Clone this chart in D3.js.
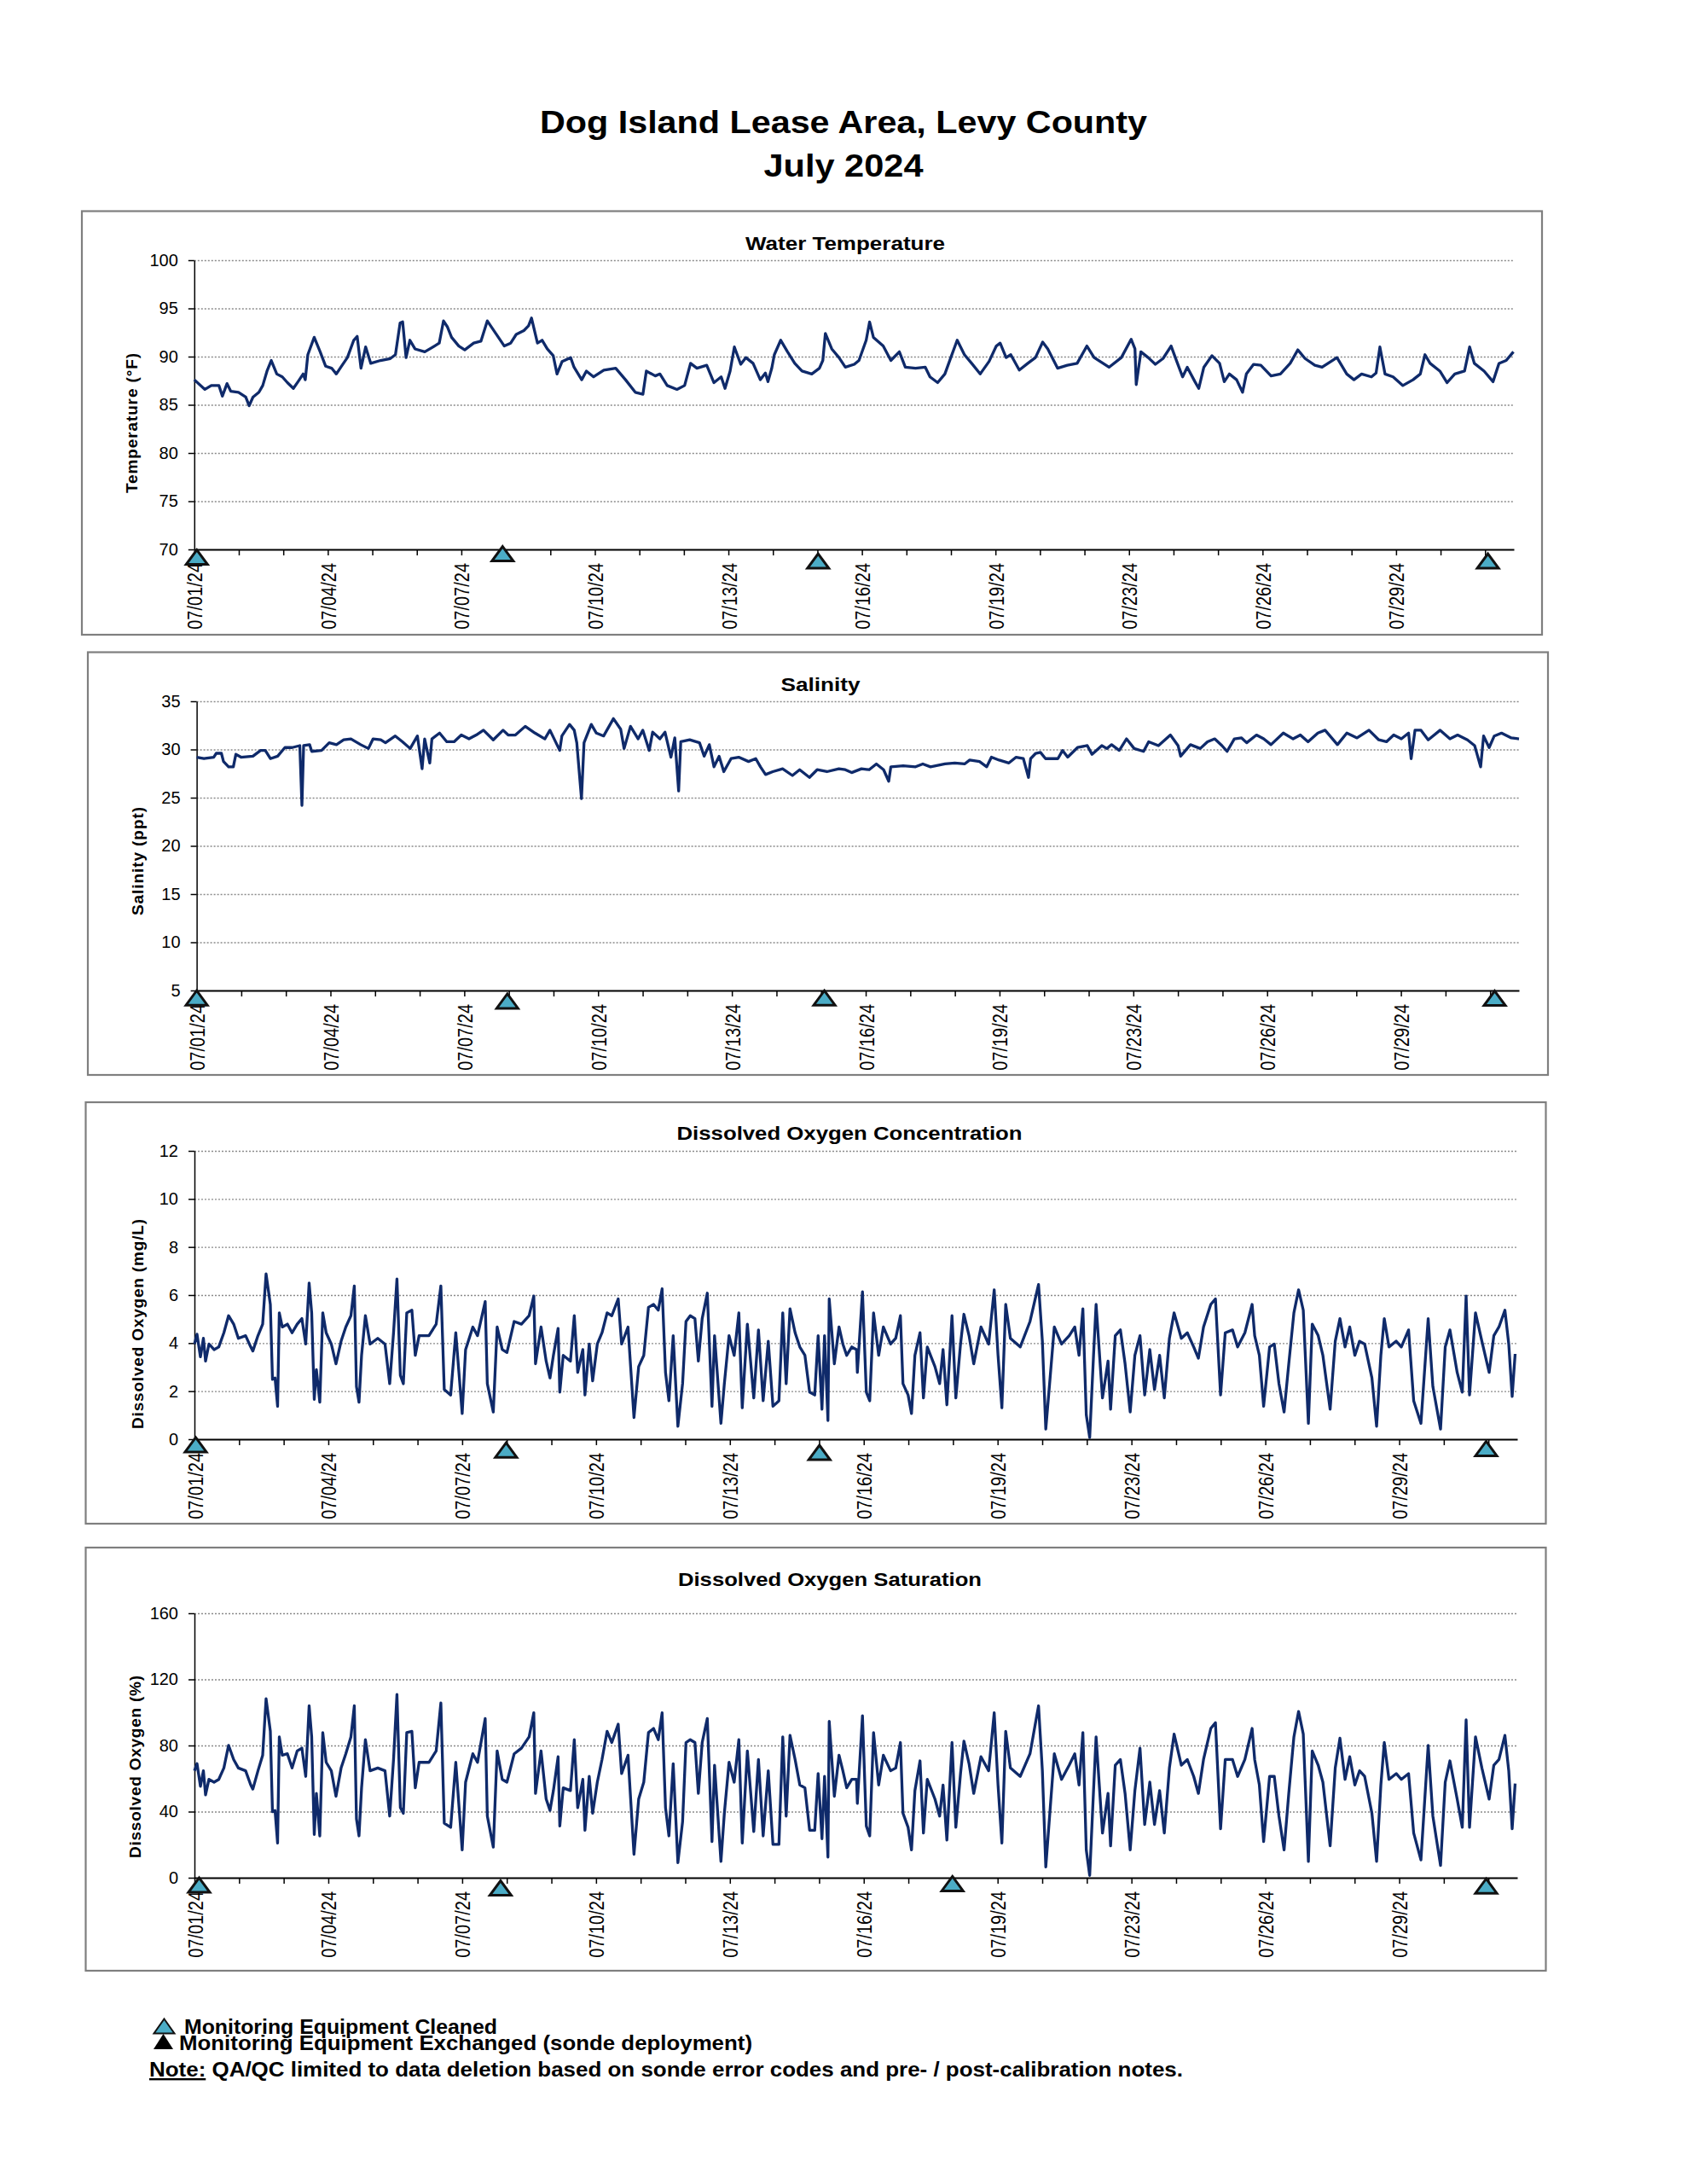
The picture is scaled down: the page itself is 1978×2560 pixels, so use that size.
<!DOCTYPE html>
<html>
<head>
<meta charset="utf-8">
<script src="https://cdn.jsdelivr.net/npm/d3@7"></script>
<style>
  body { margin: 0; background: #fff; }
  text { font-family: "Liberation Sans", Arial, sans-serif; }
</style>
</head>
<body>
<div id="page"></div>
<script>
const width = 1978;
const height = 2560;

// ---- data (days after 07/01/24 00:00, value) ----
const pageTitle = ["Dog Island Lease Area, Levy County", "July 2024"];
const chartTitles = ["Water Temperature", "Salinity", "Dissolved Oxygen Concentration", "Dissolved Oxygen Saturation"];
const yAxisTitles = ["Temperature (°F)", "Salinity (ppt)", "Dissolved Oxygen (mg/L)", "Dissolved Oxygen (%)"];

const xTickLabels = ["07/01/24", "07/04/24", "07/07/24", "07/10/24", "07/13/24", "07/16/24", "07/19/24", "07/23/24", "07/26/24", "07/29/24"];
const xLabelStep = 3.14;   // days between labelled ticks
const xDomainEnd = 31.03;

const tempTicks = [70, 75, 80, 85, 90, 95, 100];
const salTicks = [5, 10, 15, 20, 25, 30, 35];
const doConcTicks = [0, 2, 4, 6, 8, 10, 12];
const doSatTicks = [0, 40, 80, 120, 160];

const tempSeries = [
  [0.00,87.6],[0.25,86.6],[0.40,87.0],[0.58,87.0],[0.66,85.9],[0.77,87.2],[0.86,86.4],[1.04,86.3],[1.21,85.8],[1.29,84.9],
  [1.38,85.8],[1.52,86.3],[1.61,87.0],[1.71,88.5],[1.81,89.6],[1.94,88.2],[2.07,87.9],[2.19,87.3],[2.33,86.7],[2.44,87.4],
  [2.56,88.2],[2.61,87.6],[2.67,90.2],[2.82,92.0],[2.96,90.5],[3.09,89.0],[3.23,88.8],[3.34,88.2],[3.46,89.0],[3.60,89.9],
  [3.75,91.7],[3.83,92.1],[3.92,88.8],[4.03,91.0],[4.15,89.3],[4.38,89.6],[4.61,89.8],[4.73,90.2],[4.84,93.5],[4.90,93.6],
  [4.98,89.9],[5.07,91.7],[5.19,90.8],[5.42,90.5],[5.65,91.1],[5.76,91.4],[5.86,93.7],[5.95,93.1],[6.05,92.0],[6.22,91.1],
  [6.36,90.7],[6.57,91.4],[6.74,91.6],[6.89,93.7],[7.09,92.4],[7.29,91.1],[7.44,91.4],[7.57,92.3],[7.75,92.7],[7.86,93.2],
  [7.93,94.0],[8.07,91.4],[8.18,91.7],[8.30,90.8],[8.44,90.1],[8.53,88.2],[8.65,89.5],[8.85,89.9],[8.93,88.9],[9.11,87.6],
  [9.22,88.5],[9.39,87.9],[9.63,88.6],[9.91,88.8],[10.14,87.6],[10.37,86.3],[10.55,86.1],[10.63,88.5],[10.84,88.0],[10.95,88.2],
  [11.12,87.0],[11.35,86.6],[11.53,87.0],[11.67,89.3],[11.82,88.8],[12.05,89.1],[12.22,87.3],[12.39,87.9],[12.48,86.7],[12.60,88.5],
  [12.70,91.0],[12.85,89.2],[12.97,89.9],[13.14,89.3],[13.31,87.6],[13.43,88.3],[13.49,87.4],[13.58,88.8],[13.64,90.2],[13.79,91.7],
  [13.95,90.5],[14.12,89.3],[14.29,88.5],[14.52,88.2],[14.70,88.8],[14.78,89.6],[14.84,92.4],[14.99,90.8],[15.16,89.9],[15.31,88.9],
  [15.52,89.2],[15.63,89.6],[15.80,91.7],[15.88,93.6],[15.97,92.0],[16.20,91.1],[16.38,89.6],[16.58,90.5],[16.72,88.9],[16.96,88.8],
  [17.19,88.9],[17.30,87.9],[17.48,87.3],[17.65,88.2],[17.79,89.9],[17.94,91.7],[18.11,90.2],[18.28,89.3],[18.48,88.2],[18.69,89.5],
  [18.86,91.1],[18.95,91.4],[19.09,89.9],[19.20,90.2],[19.40,88.6],[19.60,89.3],[19.78,89.9],[19.95,91.5],[20.07,90.8],[20.30,88.8],
  [20.53,89.1],[20.76,89.3],[20.99,91.1],[21.16,89.9],[21.51,88.9],[21.80,89.9],[22.03,91.8],[22.12,90.8],[22.15,87.1],[22.26,90.5],
  [22.43,89.9],[22.60,89.2],[22.78,89.8],[22.97,91.1],[23.12,89.3],[23.24,87.9],[23.35,88.9],[23.53,87.4],[23.62,86.7],[23.74,88.9],
  [23.93,90.1],[24.11,89.3],[24.22,87.4],[24.34,88.2],[24.51,87.6],[24.65,86.3],[24.74,88.2],[24.91,89.2],[25.08,89.1],[25.32,88.0],
  [25.54,88.2],[25.77,89.3],[25.95,90.7],[26.12,89.8],[26.35,89.1],[26.52,88.9],[26.87,89.9],[27.10,88.2],[27.27,87.6],[27.45,88.2],
  [27.68,87.9],[27.79,88.3],[27.88,91.0],[28.00,88.2],[28.19,87.9],[28.42,87.0],[28.66,87.6],[28.83,88.2],[28.94,90.2],[29.06,89.3],
  [29.29,88.5],[29.46,87.3],[29.64,88.2],[29.87,88.5],[29.99,91.0],[30.10,89.3],[30.33,88.5],[30.54,87.4],[30.68,89.3],[30.85,89.6],
  [31.02,90.5]
];

const salSeries = [
  [0.00,29.2],[0.17,29.05],[0.40,29.2],[0.46,29.6],[0.58,29.6],[0.63,28.75],[0.75,28.2],[0.86,28.2],[0.92,29.5],[1.04,29.2],
  [1.32,29.3],[1.50,29.9],[1.61,29.9],[1.73,29.05],[1.90,29.3],[2.07,30.2],[2.24,30.2],[2.42,30.4],[2.47,24.2],[2.51,30.4],
  [2.65,30.5],[2.70,29.8],[2.93,29.9],[3.11,30.7],[3.28,30.5],[3.45,31.0],[3.62,31.1],[3.85,30.5],[4.03,30.1],[4.14,31.1],
  [4.32,31.0],[4.43,30.7],[4.66,31.4],[4.83,30.8],[5.01,30.1],[5.18,31.4],[5.29,28.0],[5.35,31.1],[5.47,28.6],[5.52,31.1],
  [5.70,31.7],[5.87,30.8],[6.04,30.8],[6.21,31.5],[6.39,31.1],[6.56,31.5],[6.73,32.0],[6.96,31.0],[7.19,32.0],[7.31,31.5],
  [7.48,31.5],[7.71,32.4],[7.94,31.7],[8.17,31.1],[8.29,32.0],[8.52,29.9],[8.57,31.4],[8.75,32.6],[8.86,32.0],[8.92,30.7],
  [9.03,24.9],[9.09,30.7],[9.26,32.6],[9.38,31.7],[9.55,31.4],[9.78,33.2],[9.95,32.1],[10.03,30.1],[10.18,32.4],[10.36,31.1],
  [10.47,32.0],[10.62,29.9],[10.70,31.8],[10.87,31.1],[10.99,31.8],[11.13,29.2],[11.22,31.2],[11.31,25.7],[11.36,30.8],[11.57,31.0],
  [11.80,30.7],[11.91,29.3],[12.03,30.5],[12.14,28.2],[12.26,29.3],[12.37,27.7],[12.54,29.05],[12.72,29.2],[12.95,28.75],[13.12,29.05],
  [13.23,28.2],[13.35,27.4],[13.52,27.7],[13.75,28.0],[13.98,27.3],[14.15,27.9],[14.38,27.1],[14.56,27.9],[14.79,27.7],[15.07,28.0],
  [15.22,27.9],[15.37,27.6],[15.60,28.0],[15.78,27.9],[15.95,28.5],[16.12,27.9],[16.24,26.7],[16.29,28.2],[16.58,28.3],[16.87,28.2],
  [17.04,28.5],[17.22,28.2],[17.56,28.5],[17.79,28.6],[18.02,28.5],[18.14,28.9],[18.37,28.75],[18.54,28.2],[18.65,29.2],[18.83,28.9],
  [19.06,28.6],[19.23,29.2],[19.40,29.05],[19.52,27.1],[19.57,29.05],[19.69,29.6],[19.80,29.7],[19.92,29.05],[20.21,29.05],[20.32,29.9],
  [20.44,29.2],[20.67,30.2],[20.90,30.4],[21.01,29.5],[21.24,30.4],[21.36,30.1],[21.47,30.5],[21.65,29.9],[21.82,31.1],[22.00,30.1],
  [22.22,29.8],[22.34,30.8],[22.57,30.4],[22.85,31.5],[23.03,30.4],[23.09,29.3],[23.32,30.5],[23.55,30.1],[23.72,30.8],[23.89,31.1],
  [24.06,30.4],[24.18,29.8],[24.35,31.1],[24.52,31.2],[24.64,30.7],[24.87,31.5],[25.04,31.1],[25.21,30.5],[25.50,31.7],[25.73,31.1],
  [25.90,31.5],[26.08,30.8],[26.31,31.7],[26.48,32.0],[26.77,30.5],[26.99,31.7],[27.23,31.2],[27.51,32.0],[27.74,31.0],[27.92,30.8],
  [28.09,31.5],[28.27,31.1],[28.44,31.7],[28.50,29.05],[28.59,32.0],[28.73,32.0],[28.90,31.0],[29.18,32.0],[29.41,31.1],[29.59,31.5],
  [29.82,31.0],[29.99,30.4],[30.13,28.2],[30.20,31.4],[30.33,30.2],[30.45,31.4],[30.62,31.7],[30.85,31.2],[31.03,31.1]
];

// dissolved oxygen: both series logged at the same times
const doDays = [
  0.00,0.06,0.14,0.21,0.26,0.34,0.46,0.57,0.69,0.80, 0.92,1.03,1.20,1.32,1.37,1.49,1.60,1.68,1.78,1.83,
  1.89,1.95,1.99,2.06,2.18,2.29,2.41,2.52,2.61,2.69, 2.75,2.81,2.86,2.94,3.01,3.09,3.21,3.32,3.44,3.55,
  3.67,3.75,3.80,3.86,3.92,4.01,4.12,4.30,4.47,4.58, 4.67,4.75,4.83,4.90,4.98,5.10,5.18,5.27,5.50,5.67,
  5.78,5.86,6.01,6.13,6.28,6.36,6.53,6.64,6.82,6.87, 7.01,7.10,7.22,7.33,7.50,7.67,7.85,7.96,8.00,8.13,
  8.25,8.34,8.42,8.53,8.57,8.65,8.82,8.91,8.99,9.11, 9.16,9.26,9.34,9.45,9.56,9.68,9.79,9.94,10.02,10.17,
  10.31,10.42,10.54,10.65,10.77,10.88,10.97,11.05,11.13,11.23, 11.34,11.45,11.53,11.63,11.74,11.82,11.91,12.03,12.14,12.20,
  12.35,12.43,12.54,12.66,12.77,12.85,12.97,13.12,13.23,13.34, 13.46,13.57,13.71,13.80,13.88,13.97,14.09,14.20,14.32,14.43,
  14.55,14.63,14.72,14.78,14.86,14.89,15.01,15.12,15.21,
  15.30,15.42,15.53,15.55,15.67,15.76,15.84,15.93,16.05,16.16, 16.33,16.45,16.56,16.62,16.74,16.82,16.90,17.02,17.10,17.19,
  17.37,17.48,17.56,17.65,17.77,17.86,17.97,18.05,18.17,18.28, 18.45,18.63,18.76,18.85,18.94,19.03,19.14,19.37,19.60,19.80,
  19.89,19.97,20.06,20.17,20.34,20.52,20.65,20.75,20.84,20.92, 21.00,21.09,21.15,21.30,21.43,21.49,21.60,21.72,21.83,21.95,
  22.06,22.18,22.29,22.41,22.52,22.64,22.75,22.87,22.98,23.15, 23.29,23.44,23.55,23.67,23.84,23.95,24.07,24.18,24.35,24.47,
  24.64,24.81,24.87,24.98,25.08,25.22,25.33,25.44,25.56,25.67, 25.79,25.90,26.01,26.13,26.22,26.36,26.47,26.64,26.76,26.87,
  26.99,27.10,27.22,27.33,27.45,27.62,27.73,27.83,27.91,28.02, 28.19,28.31,28.48,28.60,28.77,28.94,29.05,29.23,29.34,29.45,
  29.62,29.74,29.83,29.91,30.05,30.20,30.37,30.48,30.60,30.74, 30.83,30.91,30.98
];

const doConcValues = [
  3.96,4.37,3.43,4.2,3.25,3.96,3.73,3.84,4.43,5.14, 4.79,4.2,4.31,3.84,3.67,4.31,4.79,6.88,5.61,2.49,
  2.55,1.37,5.26,4.67,4.79,4.43,4.79,5.02,3.96,6.5, 5.26,1.66,2.9,1.54,5.26,4.43,3.96,3.14,4.08,4.67,
  5.14,6.38,2.19,1.54,3.49,5.14,3.96,4.2,3.96,2.31, 4.43,6.67,2.66,2.31,5.26,5.37,3.49,4.31,4.31,4.79,
  6.38,2.07,1.84,4.43,1.07,3.73,4.67,4.31,5.73,2.31, 1.13,4.67,3.73,3.61,4.9,4.79,5.14,5.96,3.14,4.67,
  3.25,2.55,3.49,4.61,1.96,3.49,3.25,5.14,2.78,3.73, 1.84,3.96,2.43,3.96,4.43,5.26,5.14,5.84,3.96,4.67,
  0.9,3.02,3.49,5.49,5.61,5.37,6.26,2.78,1.6,4.31, 0.54,2.31,4.9,5.14,5.02,3.25,5.02,6.08,1.37,4.31,
  0.66,2.31,4.31,3.49,5.26,1.31,4.79,1.72,4.55,1.6, 4.08,1.37,1.6,5.26,2.31,5.43,4.43,3.84,3.49,1.96,
  1.84,4.31,1.25,4.31,0.78,5.84,3.14,4.67,3.96,
  3.49,3.84,3.73,2.78,6.14,1.96,1.6,5.26,3.49,4.67, 3.96,4.2,5.14,2.31,1.84,1.07,3.49,4.43,1.72,3.84,
  3.02,2.31,3.73,1.43,5.14,1.72,3.96,5.2,4.31,3.14, 4.67,3.96,6.22,3.49,1.31,5.61,4.2,3.84,4.9,6.44,
  4.08,0.42,2.31,4.67,3.96,4.31,4.67,3.49,5.43,1.01, 0.07,3.49,5.61,1.72,3.25,1.25,4.31,4.55,3.14,1.13,
  3.49,4.31,1.84,3.73,2.07,3.49,1.72,4.2,5.26,4.2, 4.43,3.84,3.37,4.67,5.61,5.84,1.84,4.43,4.55,3.84,
  4.43,5.61,4.31,3.49,1.37,3.84,3.96,2.31,1.13,3.14, 5.26,6.22,5.37,0.66,4.79,4.31,3.49,1.25,4.08,5.02,
  3.84,4.67,3.49,4.08,3.96,2.55,0.54,3.49,5.02,3.84, 4.08,3.84,4.55,1.6,0.66,5.02,2.19,0.42,3.84,4.55,
  2.78,1.96,5.96,1.84,5.26,4.08,2.78,4.31,4.67,5.37, 3.96,1.78,3.55
];

const doSatValues = [
  64.7,69.0,55.3,64.7,50.1,59.5,57.8,59.5,66.4,80.1, 71.5,66.4,64.7,56.1,53.6,64.7,74.1,108.3,88.6,39.9,
  40.7,21.0,85.2,74.1,75.0,66.4,76.7,78.4,61.3,104.0, 85.2,26.2,51.0,25.3,87.8,69.8,64.7,49.3,66.4,75.0,
  85.2,104.0,35.6,25.3,54.4,83.5,64.7,66.4,64.7,37.3, 71.5,110.9,42.4,39.0,87.8,88.6,54.4,69.8,69.8,76.7,
  105.7,33.0,30.5,69.8,16.8,57.8,75.0,69.8,96.3,37.3, 18.5,76.7,59.5,57.8,75.0,78.4,85.2,99.8,51.0,76.7,
  47.6,40.7,52.7,73.2,31.3,54.4,52.7,83.5,42.4,59.5, 28.7,61.3,39.0,57.8,71.5,88.6,81.8,92.9,63.0,74.1,
  14.2,47.6,57.8,87.8,90.3,83.5,99.8,42.4,25.3,69.0, 9.1,33.9,81.8,83.5,81.8,51.0,81.8,96.3,21.9,68.1,
  9.9,39.0,69.8,57.8,83.5,21.0,76.7,27.9,71.5,25.3, 64.7,20.2,20.2,85.2,37.3,86.1,71.5,56.1,54.4,28.7,
  28.7,63.0,23.6,61.3,12.5,94.6,49.3,74.1,64.7,
  54.4,59.5,59.5,45.0,98.0,31.3,25.3,87.8,56.1,74.1, 64.7,66.4,81.8,39.0,30.5,16.8,52.7,70.7,27.0,59.5,
  47.6,37.3,56.1,22.8,81.8,30.5,63.0,82.6,69.0,51.0, 73.2,64.7,99.8,56.1,21.0,88.6,66.4,61.3,75.0,104.0,
  64.7,6.5,37.3,75.0,59.5,68.1,75.0,56.1,87.8,16.8, 1.4,52.7,85.2,27.0,51.0,19.3,68.1,71.5,51.0,16.8,
  52.7,78.4,32.2,57.8,32.2,52.7,27.0,66.4,86.9,68.1, 71.5,61.3,51.0,71.5,90.3,93.8,29.6,71.5,71.5,61.3,
  71.5,90.3,71.5,56.1,21.9,61.3,61.3,37.3,16.8,51.0, 85.2,100.6,86.9,9.9,76.7,68.1,57.8,19.3,66.4,84.4,
  59.5,73.2,56.1,64.7,61.3,39.0,9.9,56.1,81.8,59.5, 63.0,59.5,63.0,27.0,10.8,80.1,37.3,7.4,57.8,70.7,
  47.6,30.5,95.5,30.5,85.2,66.4,47.6,68.1,71.5,86.1, 64.7,29.6,57.0
];

// equipment cleaned events: [day, plotted value]
const tempMarkers = [[0.06,69.2],[7.25,69.55],[14.67,68.8],[30.42,68.8]];
const salMarkers = [[0.0,4.23],[7.29,3.9],[14.73,4.23],[30.46,4.2]];
const doConcMarkers = [[0.03,-0.23],[7.31,-0.45],[14.66,-0.55],[30.30,-0.39]];
const doSatMarkers = [[0.11,-4.4],[7.18,-6.2],[17.78,-3.6],[30.30,-5.0]];

const legendItems = ["Monitoring Equipment Cleaned", "Monitoring Equipment Exchanged (sonde deployment)"];
const noteText = ["Note:", " QA/QC limited to data deletion based on sonde error codes and pre- / post-calibration notes."];

// ---- layout ----
const lineColor = "#0f2a6a";
const cleanedColor = "#4bacc6";
const font = '"Liberation Sans", Arial, sans-serif';

const charts = [
  { data: tempSeries, ticks: tempTicks, markers: tempMarkers,
    box: [96, 247.5, 1808, 744], plot: [227.8, 1775, 305, 644],
    title: [991, 292.5, 234], yTitle: [161, 496, 164] },
  { data: salSeries, ticks: salTicks, markers: salMarkers,
    box: [103, 764.5, 1815, 1260], plot: [230.6, 1781, 822, 1161],
    title: [962, 810, 93], yTitle: [168, 1009.5, 127] },
  { data: d3.zip(doDays, doConcValues), ticks: doConcTicks, markers: doConcMarkers,
    box: [100.5, 1292, 1812.5, 1786], plot: [228, 1779, 1349, 1687],
    title: [996, 1336, 405], yTitle: [168, 1552, 246] },
  { data: d3.zip(doDays, doSatValues), ticks: doSatTicks, markers: doSatMarkers,
    box: [100.5, 1814, 1812.5, 2310], plot: [228, 1779, 1891, 2201],
    title: [973, 1859, 356], yTitle: [165, 2071, 214] }
];

const svg = d3.select("#page")
    .append("svg")
    .attr("width", width)
    .attr("height", height)
    .attr("viewBox", [0, 0, width, height]);

svg.append("rect").attr("width", width).attr("height", height).attr("fill", "#fff");

// page title
svg.append("text")
    .attr("x", 989).attr("y", 156)
    .attr("text-anchor", "middle")
    .attr("font-size", 37).attr("font-weight", "bold")
    .attr("textLength", 712).attr("lengthAdjust", "spacingAndGlyphs")
    .text(pageTitle[0]);
svg.append("text")
    .attr("x", 989).attr("y", 207)
    .attr("text-anchor", "middle")
    .attr("font-size", 37).attr("font-weight", "bold")
    .attr("textLength", 187).attr("lengthAdjust", "spacingAndGlyphs")
    .text(pageTitle[1]);

const trianglePath = (w, h) => `M0,${-h / 2}L${w / 2},${h / 2}L${-w / 2},${h / 2}Z`;
const xMinorTicks = d3.range(0, 30).map(j => j * xLabelStep / 3);

charts.forEach((c, i) => {
    const [pl, pr, pt, pb] = c.plot;
    const x = d3.scaleLinear().domain([0, xDomainEnd]).range([pl, pr]);
    const y = d3.scaleLinear().domain(d3.extent(c.ticks)).range([pb, pt]);
    const [bx0, by0, bx1, by1] = c.box;

    svg.append("rect")
        .attr("x", bx0).attr("y", by0)
        .attr("width", bx1 - bx0).attr("height", by1 - by0)
        .attr("fill", "#fff")
        .attr("stroke", "#7f7f7f")
        .attr("stroke-width", 2.2);

    // dotted gridlines
    svg.append("g")
        .attr("transform", `translate(${pl},0)`)
        .call(d3.axisLeft(y).tickValues(c.ticks.slice(1)).tickSize(-(pr - pl)).tickFormat(""))
        .call(g => g.select(".domain").remove())
        .selectAll("line")
        .attr("stroke", "#8a8a8a")
        .attr("stroke-width", 1.4)
        .attr("stroke-dasharray", "2,2");

    // y axis
    const ya = svg.append("g")
        .attr("transform", `translate(${pl},0)`)
        .call(d3.axisLeft(y).tickValues(c.ticks).tickSizeInner(7).tickSizeOuter(0).tickPadding(12))
        .attr("font-family", font)
        .attr("font-size", 20);
    ya.selectAll("path, line").attr("stroke", "#000").attr("stroke-width", 1.5);
    ya.selectAll("text").attr("fill", "#000");

    // x axis
    const xa = svg.append("g")
        .attr("transform", `translate(0,${pb})`)
        .call(d3.axisBottom(x)
            .tickValues(xMinorTicks)
            .tickSizeInner(7).tickSizeOuter(0)
            .tickFormat((d, j) => j % 3 === 0 ? xTickLabels[j / 3] : ""))
        .attr("font-family", font)
        .attr("font-size", 20);
    xa.select(".domain").attr("stroke", "#000").attr("stroke-width", 1.8);
    xa.selectAll("line").attr("stroke", "#000").attr("stroke-width", 1.5);
    xa.selectAll("text")
        .attr("x", 0).attr("y", 0).attr("dy", null)
        .attr("text-anchor", "end")
        .attr("fill", "#000")
        .attr("transform", "translate(9,16) scale(1.22,1) rotate(-90)");

    // chart title
    svg.append("text")
        .attr("x", c.title[0]).attr("y", c.title[1])
        .attr("text-anchor", "middle")
        .attr("font-size", 22).attr("font-weight", "bold")
        .attr("textLength", c.title[2]).attr("lengthAdjust", "spacingAndGlyphs")
        .text(chartTitles[i]);

    // y axis title
    svg.append("text")
        .attr("transform", `translate(${c.yTitle[0]},${c.yTitle[1]}) rotate(-90)`)
        .attr("text-anchor", "middle")
        .attr("font-size", 19).attr("font-weight", "bold")
        .attr("textLength", c.yTitle[2]).attr("lengthAdjust", "spacing")
        .text(yAxisTitles[i]);

    // data line
    svg.append("path")
        .datum(c.data)
        .attr("fill", "none")
        .attr("stroke", lineColor)
        .attr("stroke-width", 3.3)
        .attr("stroke-linejoin", "round")
        .attr("d", d3.line().x(d => x(d[0])).y(d => y(d[1])));

    // cleaning markers
    svg.append("g")
        .selectAll("path")
        .data(c.markers)
        .join("path")
        .attr("transform", d => `translate(${x(d[0])},${y(d[1])})`)
        .attr("d", trianglePath(25, 17))
        .attr("fill", cleanedColor)
        .attr("stroke", "#111")
        .attr("stroke-width", 3)
        .attr("stroke-linejoin", "miter");
});

// legend (the two lines overlap in the original as well)
svg.append("path")
    .attr("transform", "translate(192.5,2375)")
    .attr("d", trianglePath(24, 17))
    .attr("fill", cleanedColor)
    .attr("stroke", "#111")
    .attr("stroke-width", 2);
svg.append("path")
    .attr("transform", "translate(191.5,2393)")
    .attr("d", trianglePath(23, 18))
    .attr("fill", "#000");

svg.append("text")
    .attr("x", 216).attr("y", 2384)
    .attr("font-size", 24).attr("font-weight", "bold")
    .attr("textLength", 367).attr("lengthAdjust", "spacingAndGlyphs")
    .text(legendItems[0]);
svg.append("text")
    .attr("x", 210).attr("y", 2403)
    .attr("font-size", 24).attr("font-weight", "bold")
    .attr("textLength", 672).attr("lengthAdjust", "spacingAndGlyphs")
    .text(legendItems[1]);

const note = svg.append("text")
    .attr("x", 175).attr("y", 2434)
    .attr("font-size", 24).attr("font-weight", "bold")
    .attr("textLength", 1212).attr("lengthAdjust", "spacingAndGlyphs");
note.append("tspan").style("text-decoration", "underline").text(noteText[0]);
note.append("tspan").text(noteText[1]);
</script>
</body>
</html>
